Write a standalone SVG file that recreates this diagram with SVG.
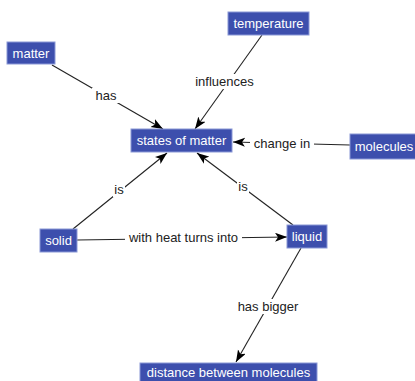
<svg xmlns="http://www.w3.org/2000/svg" width="415" height="381" viewBox="0 0 415 381">
<style>
.n rect{fill:#3d4fad;stroke:#8a98d6;stroke-width:1}
.n text{fill:#fff;font-family:"Liberation Sans",Arial,sans-serif;font-size:13px;text-anchor:middle}
.c line{stroke:#222;stroke-width:1.1;marker-end:url(#ah)}
.c rect{fill:#fff}
.c text{fill:#222;font-family:"Liberation Sans",Arial,sans-serif;font-size:13px;text-anchor:middle}
</style>
<defs>
<marker id="ah" markerUnits="userSpaceOnUse" markerWidth="14" markerHeight="10" refX="12" refY="4.5" orient="auto">
<path d="M0,0 L12,4.5 L0,9 L3,4.5 z" fill="#000"/>
</marker>
</defs>
<rect width="415" height="381" fill="#fff"/>
<g id="connectors" class="c">
<line x1="52" y1="65" x2="163" y2="129"/>
<line x1="262" y1="35" x2="195" y2="129"/>
<line x1="350" y1="145" x2="233" y2="142"/>
<line x1="73" y1="229" x2="167" y2="153"/>
<line x1="293" y1="225" x2="197" y2="153"/>
<line x1="77" y1="240" x2="287" y2="237"/>
<line x1="301" y1="248" x2="236" y2="362"/>
<rect x="92" y="88" width="28" height="15"/>
<text x="106" y="100">has</text>
<rect x="192" y="74" width="65" height="15"/>
<text x="224.5" y="86">influences</text>
<rect x="250" y="136" width="64" height="15"/>
<text x="282" y="148">change in</text>
<rect x="113" y="182" width="12" height="15"/>
<text x="119" y="194">is</text>
<rect x="237" y="179" width="12" height="15"/>
<text x="243" y="191">is</text>
<rect x="125" y="230" width="117" height="15"/>
<text x="183.5" y="242">with heat turns into</text>
<rect x="234" y="299" width="68" height="15"/>
<text x="268" y="311">has bigger</text>
</g>
<g id="matter" class="n"><rect x="7" y="42" width="48" height="22"/><text x="31" y="58">matter</text></g>
<g id="temperature" class="n"><rect x="228" y="12" width="81" height="23"/><text x="268.5" y="28">temperature</text></g>
<g id="states" class="n"><rect x="131" y="129" width="101" height="23"/><text x="181.5" y="145">states of matter</text></g>
<g id="molecules" class="n"><rect x="350" y="134" width="67" height="25"/><text x="384" y="151">molecules</text></g>
<g id="solid" class="n"><rect x="40" y="229" width="37" height="23"/><text x="58.5" y="245">solid</text></g>
<g id="liquid" class="n"><rect x="287" y="225" width="40" height="23"/><text x="307" y="241">liquid</text></g>
<g id="distance" class="n"><rect x="140" y="363" width="177" height="22"/><text x="228.5" y="377">distance between molecules</text></g>
</svg>
